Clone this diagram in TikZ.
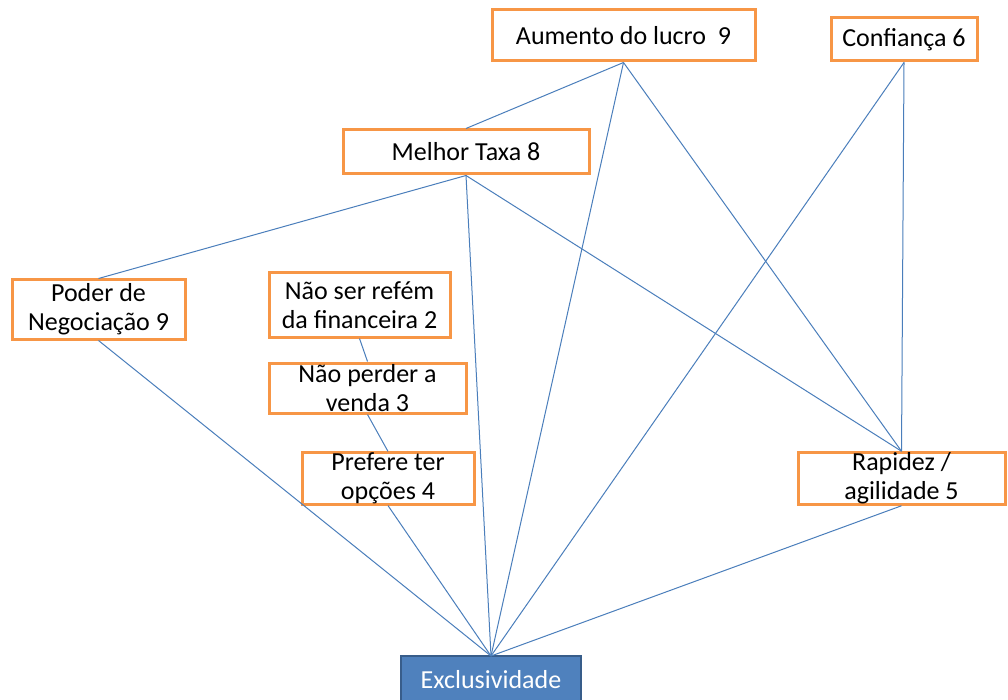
\documentclass[tikz,border=0pt]{standalone}
\usepackage{fontspec}
\setmainfont{Carlito}
\definecolor{boxorange}{HTML}{F79646}
\definecolor{linkblue}{HTML}{4A7EBB}
\definecolor{exfill}{HTML}{4F81BD}
\definecolor{exborder}{HTML}{385D8A}
\tikzset{
  obox/.style={draw=boxorange, line width=3pt, fill=white, inner sep=0pt, align=center,
    font=\fontsize{26}{29}\selectfont, text=black},
  link/.style={draw=linkblue, line width=1pt},
}
\begin{document}
\begin{tikzpicture}[x=1pt,y=-1pt]
\clip (0,0) rectangle (1008,700);
\fill[white] (0,0) rectangle (1008,700);
% nodes
\node[obox, minimum width=263pt, minimum height=51pt] (aum) at (623.5,35.5) {Aumento do lucro\ \ 9};
\node[obox, minimum width=146pt, minimum height=43pt] (conf) at (904,39.5) {Confiança 6};
\node[obox, minimum width=246pt, minimum height=44pt] (mel) at (466,152) {Melhor Taxa 8};
\node[obox, minimum width=173pt, minimum height=59pt] (pod) at (98.5,309.5) {Poder de\\Negociação 9};
\node[obox, minimum width=181pt, minimum height=64pt] (ref) at (359.5,305) {Não ser refém\\da financeira 2};
\node[obox, minimum width=197pt, minimum height=50pt] (perd) at (367.5,388) {Não perder a\\venda 3};
\node[obox, minimum width=172pt, minimum height=51pt] (pref) at (388,478.5) {Prefere ter\\opções 4};
\node[obox, minimum width=207pt, minimum height=51pt] (rap) at (901.5,478.5) {Rapidez /\\agilidade 5};
\node[draw=exborder, line width=2pt, fill=exfill, text=white, inner sep=0pt,
  minimum width=180pt, minimum height=48pt, font=\fontsize{26}{28}\selectfont] (exc) at (491,680) {Exclusividade};
% connectors
\coordinate (excT) at (491,656);
\draw[link] (aum.south) -- (mel.north);
\draw[link] (aum.south) -- (excT);
\draw[link] (aum.south) -- (rap.north);
\draw[link] (conf.south) -- (excT);
\draw[link] (conf.south) -- (rap.north);
\draw[link] (mel.south) -- (pod.north);
\draw[link] (mel.south) -- (excT);
\draw[link] (mel.south) -- (rap.north);
\draw[link] (pod.south) -- (excT);
\draw[link] (ref.south) -- (perd.north);
\draw[link] (perd.south) -- (pref.north);
\draw[link] (pref.south) -- (excT);
\draw[link] (rap.south) -- (excT);
\end{tikzpicture}
\end{document}
